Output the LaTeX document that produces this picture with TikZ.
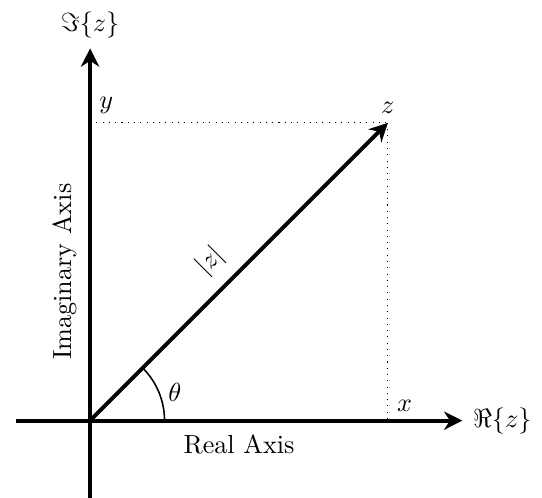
\documentclass[tikz,border=0pt]{standalone}
\usetikzlibrary{arrows.meta}
\begin{document}
\begin{tikzpicture}[
  axis/.style={line width=1.5pt,-{Stealth[length=7pt,width=7pt]}},
  vec/.style={line width=1.5pt,-{Stealth[length=7pt,width=7pt]}},
  guide/.style={dotted,line width=0.4pt},
  anglearc/.style={line width=0.6pt}
]
\useasboundingbox (-1.21,-1.03) rectangle (6.07,5.65);
\coordinate (O) at (0,0);
\coordinate (xl) at (-1,0);
\coordinate (xr) at (5,0);
\coordinate (yb) at (0,-1.05);
\coordinate (yt) at (0,5);
\coordinate (Z) at (4,4);
\coordinate (X) at (4,0);
\coordinate (Y) at (0,4);
\draw[axis] (xl) -- (xr) node[right] (re) {$\Re\{z\}$};
\draw[axis] (yb) -- (yt) node[above] (im) {$\Im\{z\}$};
\draw[guide] (Y) -- (Z);
\draw[guide] (Z) -- (X);
\draw[vec] (O) -- (Z) node[pos=0.47,above=1.5pt,sloped] (mod) {$|z|$};
\draw[anglearc] (1,0) arc[start angle=0,end angle=45,radius=1];
\node (th) at (1.14,0.38) {$\theta$};
\node[above] (zl) at (Z) {$z$};
\node[above right] (xlab) at (X) {$x$};
\node[above right] (ylab) at (Y) {$y$};
\node[below=2pt] (ra) at (2,0) {Real Axis};
\node[rotate=90] (ia) at (-0.34,2) {Imaginary Axis};
\end{tikzpicture}
\end{document}
